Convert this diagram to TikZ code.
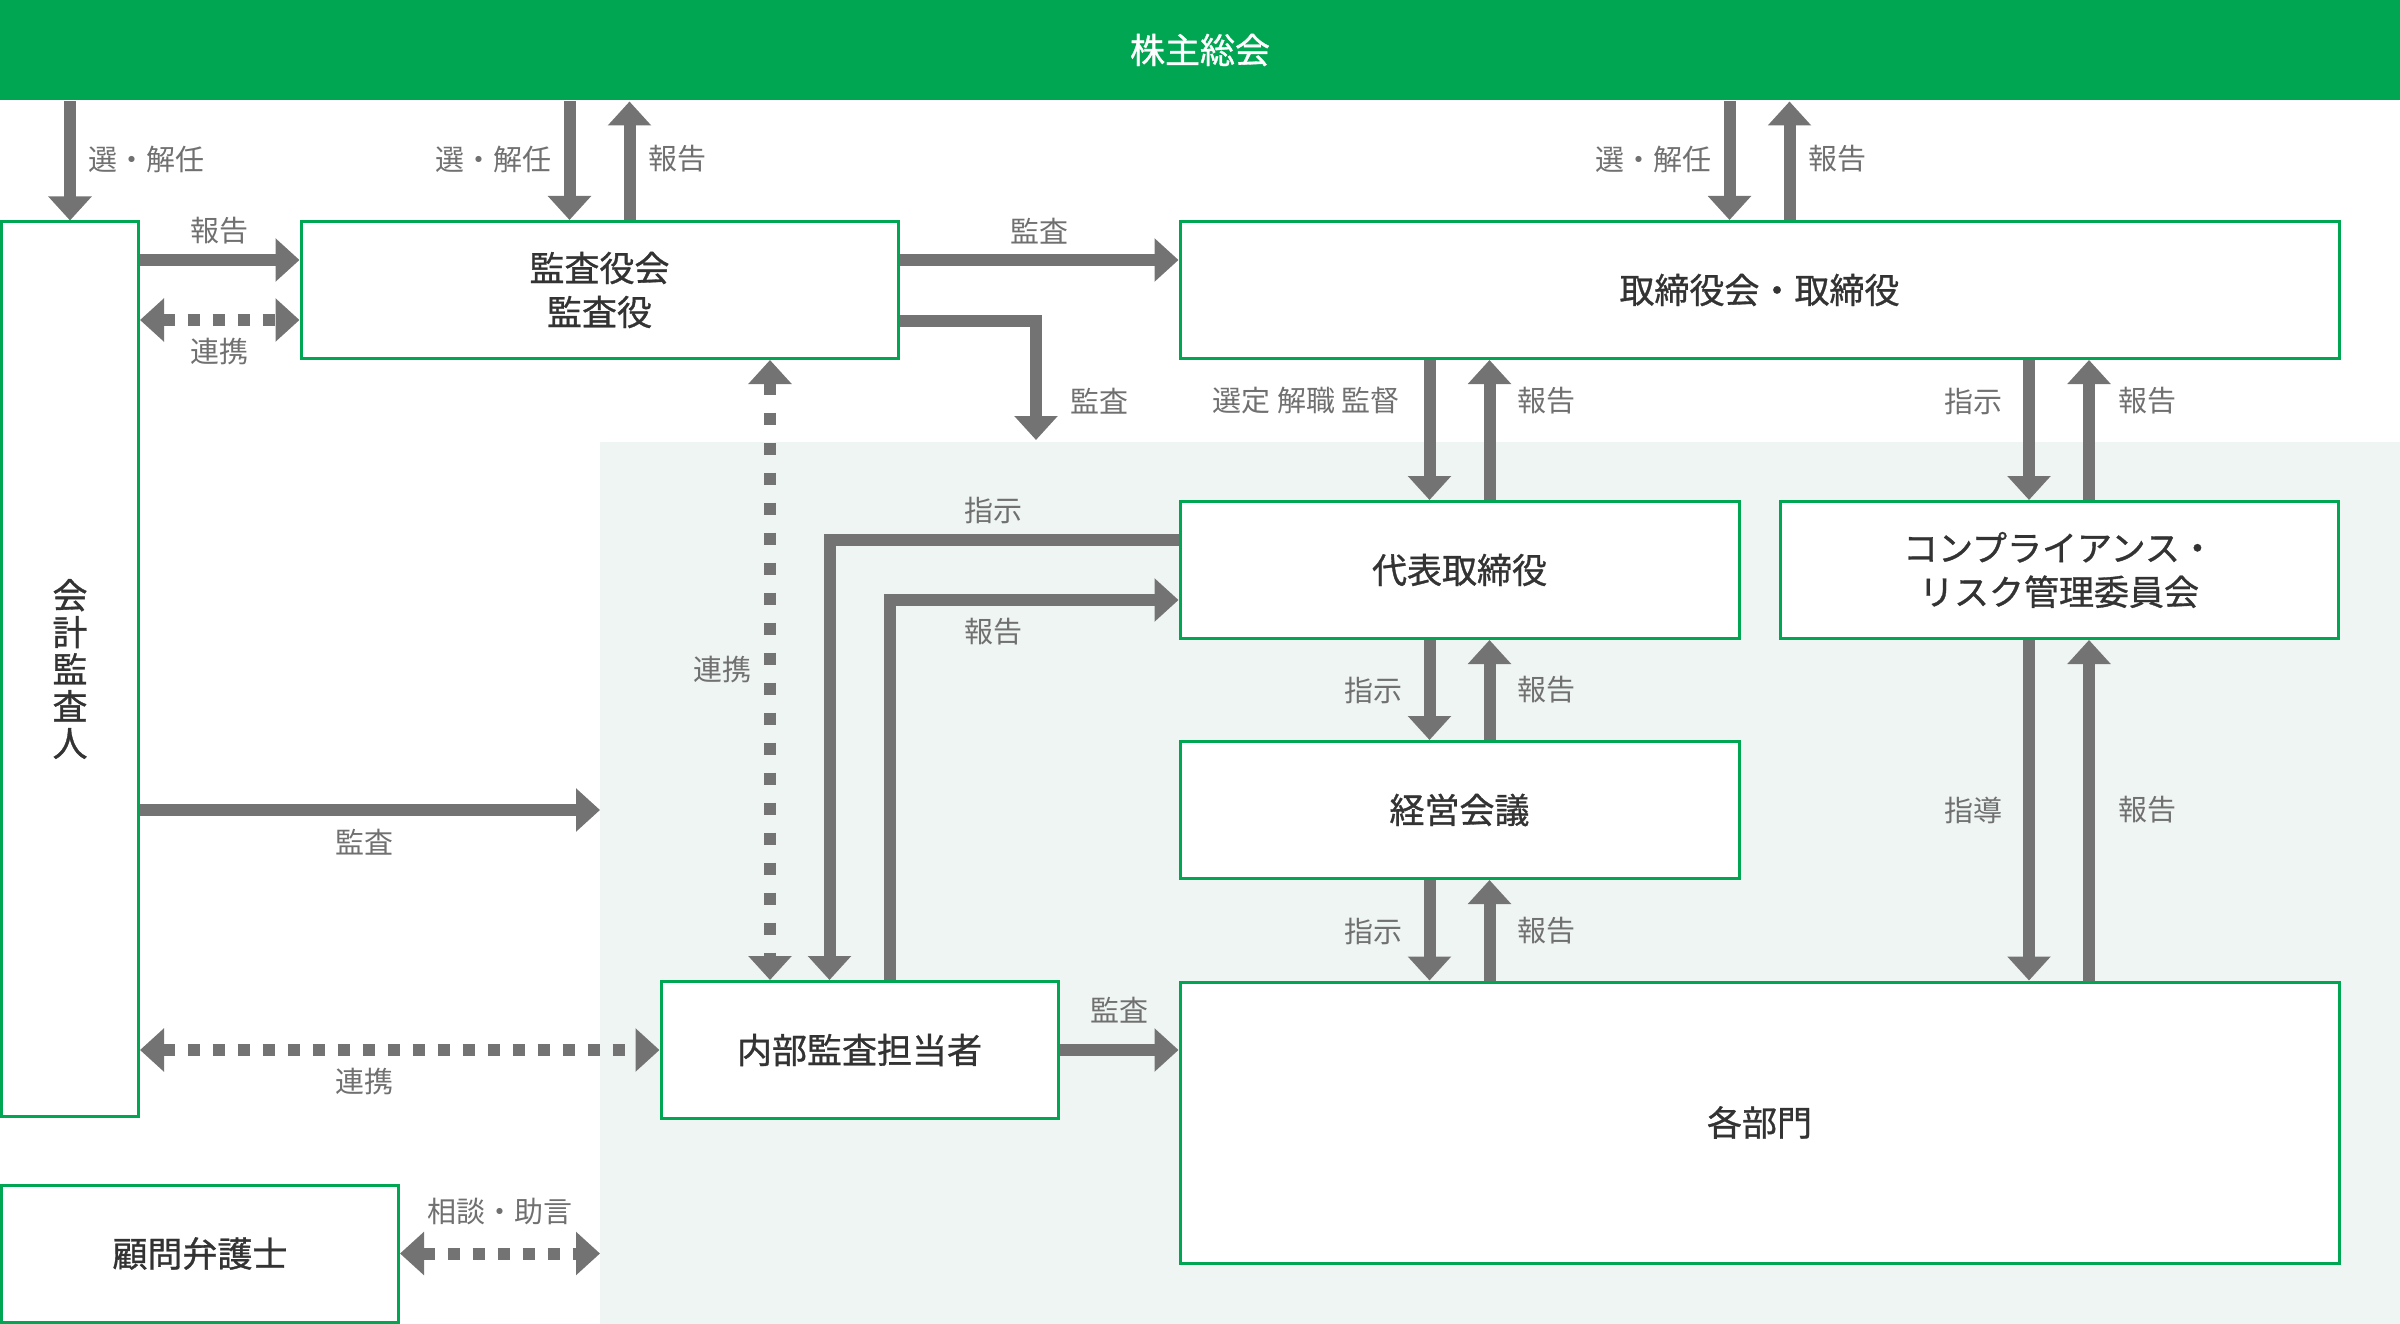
\documentclass[tikz,border=0pt]{standalone}
\usepackage{fontspec}
\setmainfont{Noto Sans CJK JP}
\newfontfamily\medfont{Noto Sans CJK JP}[FakeBold=0.9]
\usepackage{tikz}
\usetikzlibrary{arrows.meta,calc,positioning}
\usepackage{xcolor}
\definecolor{brand}{HTML}{00A651}
\definecolor{shaft}{HTML}{737373}
\definecolor{labelgray}{HTML}{707070}
\definecolor{boxtext}{HTML}{333333}
\definecolor{panel}{HTML}{EFF5F2}

\begin{document}
\begin{tikzpicture}[x=1pt,y=-1pt,>={Triangle[width=42pt,length=24pt]},
  box/.style={draw=brand,line width=3pt,fill=white,inner sep=0pt,minimum height=137pt,
    text=boxtext,font=\medfont\fontsize{35}{44}\selectfont,align=center},
  arr/.style={draw=shaft,line width=12pt},
  link/.style={arr,dash pattern=on 12pt off 13pt},
  lbl/.style={text=labelgray,font=\fontsize{29}{34}\selectfont,inner sep=0pt}]
  \useasboundingbox (0,0) rectangle (2400,1324);
  \fill[panel] (600,442) rectangle (2400,1324);

  \node[box,fill=brand,draw=none,minimum width=2400pt,minimum height=100pt,text=white] (bar) at (1200,50) {株主総会};
  \node[box,minimum width=137pt,minimum height=894pt,font=\medfont\fontsize{35}{37}\selectfont] (kaikei) at (70,669) {会\\計\\監\\査\\人};
  \node[box,minimum width=597pt] (kansa) at (599.5,290) {監査役会\\監査役};
  \node[box,minimum width=1159pt] (tori) at (1759.5,290) {取締役会・取締役};
  \node[box,minimum width=559pt] (daihyo) at (1459.5,570) {代表取締役};
  \node[box,minimum width=558pt] (comp) at (2059,570) {コンプライアンス・\\リスク管理委員会};
  \node[box,minimum width=559pt] (keiei) at (1459.5,810) {経営会議};
  \node[box,minimum width=397pt] (naibu) at (859.5,1050) {内部監査担当者};
  \node[box,minimum width=1159pt,minimum height=281pt] (kakubu) at (1759.5,1122.5) {各部門};
  \node[box,minimum width=397pt] (komon) at (200,1253.5) {顧問弁護士};

  \draw[arr,->] (bar.south -| kaikei.north) -- (kaikei.north);
  \foreach \up/\lo/\ref in {bar/kansa/kansa, bar/tori/tori, tori/daihyo/daihyo, tori/comp/comp,
      daihyo/keiei/keiei, keiei/kakubu/keiei, comp/kakubu/comp}{
    \draw[arr,->] ($(\ref |- \up.south)+(-30,0)$) -- ($(\ref |- \lo.north)+(-30,0)$);
    \draw[arr,->] ($(\ref |- \lo.north)+(30,0)$) -- ($(\ref |- \up.south)+(30,0)$);
  }

  \draw[arr,->] ($(kaikei.east |- kansa.west)+(0,-30)$) -- ($(kansa.west)+(0,-30)$);
  \draw[link,<->] ($(kaikei.east |- kansa.west)+(0,30)$) -- ($(kansa.west)+(0,30)$);
  \draw[arr,->] ($(kansa.east |- tori.west)+(0,-30)$) -- ($(tori.west)+(0,-30)$);
  \coordinate (audit) at (1036,440);
  \draw[arr,->] ($(kansa.east)+(0,31)$) -| (audit);
  \coordinate (rail) at (770,0);
  \draw[link,<->,dash pattern=on 12pt off 18pt] (kansa.south -| rail) -- (naibu.north -| rail);
  \draw[arr,->] ($(daihyo.west)+(0,-30)$) -| ($(naibu.north)+(-30,0)$);
  \draw[arr,->] ($(naibu.north)+(30,0)$) |- ($(daihyo.west)+(0,30)$);
  \coordinate (panelin) at (600,810);
  \draw[arr,->] (kaikei.east |- panelin) -- (panelin);
  \draw[link,<->] (kaikei.east |- naibu.west) -- (naibu.west);
  \draw[arr,->] (naibu.east) -- (kakubu.west |- naibu.east);
  \coordinate (legal) at (600,1254);
  \draw[link,<->] (komon.east) -- (komon.east -| legal);

  \foreach \t/\x/\y [count=\i] in {選・解任/146/159, 選・解任/493/159, 報告/677/159,
      選・解任/1653/159, 報告/1837/159, 報告/219/231, 連携/219/352, 監査/1039/231,
      監査/1099/401, {選定 解職 監督}/1306/401, 報告/1546/401, 指示/1973/401, 報告/2147/401,
      指示/993/510, 報告/993/632, 連携/722/670, 指示/1373/690, 報告/1546/690,
      指導/1973/810, 報告/2147/810, 監査/364/842, 指示/1373/931, 報告/1546/931,
      監査/1119/1010, 連携/364/1081, 相談・助言/500/1211}{
    \node[lbl] (lb\i) at (\x,\y) {\t};
  }
\end{tikzpicture}
\end{document}
